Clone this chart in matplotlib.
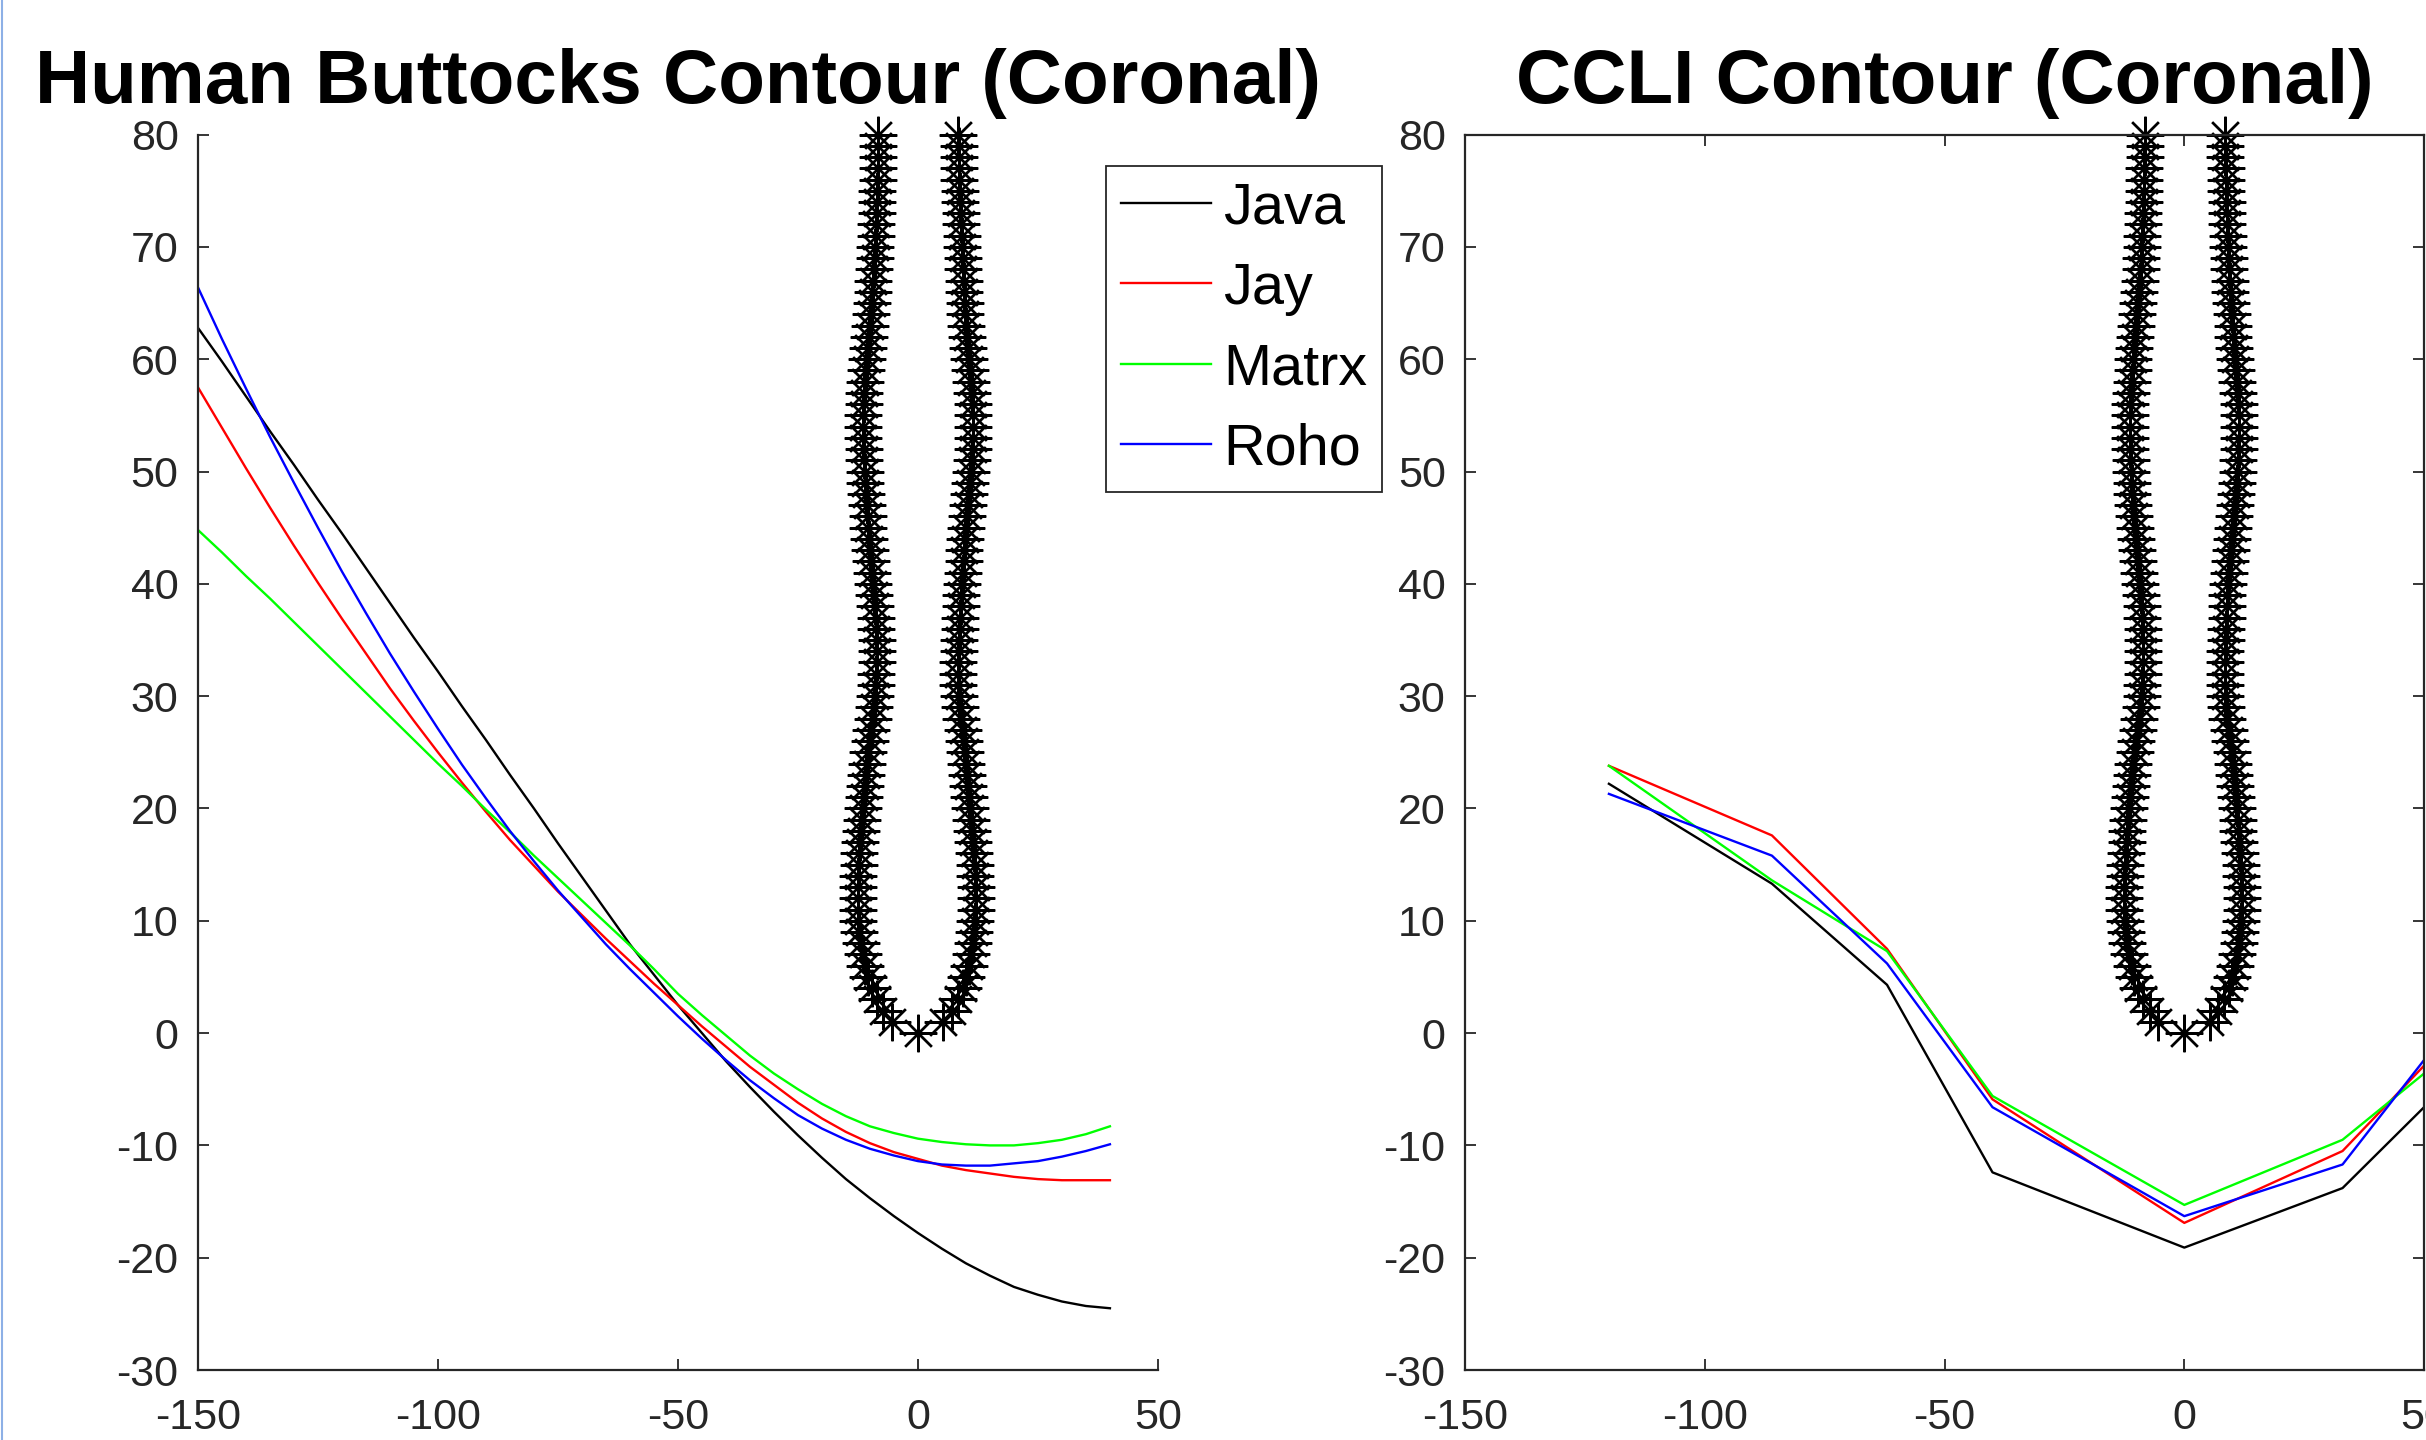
import matplotlib.pyplot as plt
from matplotlib.lines import Line2D

plt.rcParams['font.family'] = ['Liberation Sans', 'DejaVu Sans']
plt.rcParams['axes.unicode_minus'] = False

# fitted contours, human buttocks (left panel), read every 5 mm
x_fit = [-150, -145, -140, -135, -130, -125, -120, -115, -110, -105,
         -100, -95, -90, -85, -80, -75, -70, -65, -60, -55,
         -50, -45, -40, -35, -30, -25, -20, -15, -10, -5,
         0, 5, 10, 15, 20, 25, 30, 35, 40]
java_fit = [62.8, 59.8, 56.7, 53.6, 50.6, 47.5, 44.5, 41.4, 38.3, 35.2,
            32.2, 29.1, 26.1, 23.0, 20.0, 16.9, 13.9, 10.9, 7.9, 5.2,
            2.5, 0.0, -2.5, -4.8, -7.0, -9.1, -11.1, -13.0, -14.7, -16.3,
            -17.8, -19.2, -20.5, -21.6, -22.6, -23.3, -23.9, -24.3, -24.5]
jay_fit = [57.5, 53.9, 50.3, 46.8, 43.4, 40.1, 36.9, 33.8, 30.7, 27.8,
           25.0, 22.3, 19.7, 17.2, 14.9, 12.6, 10.5, 8.4, 6.4, 4.4,
           2.5, 0.6, -1.2, -3.0, -4.6, -6.2, -7.6, -8.8, -9.8, -10.6,
           -11.2, -11.8, -12.2, -12.5, -12.8, -13.0, -13.1, -13.1, -13.1]
matrx_fit = [44.8, 42.8, 40.7, 38.7, 36.6, 34.5, 32.4, 30.3, 28.2, 26.1,
             24.0, 22.0, 19.9, 17.9, 15.8, 13.8, 11.8, 9.8, 7.8, 5.7,
             3.5, 1.6, -0.2, -2.0, -3.6, -5.0, -6.3, -7.4, -8.3, -8.9,
             -9.4, -9.7, -9.9, -10.0, -10.0, -9.8, -9.5, -9.0, -8.3]
roho_fit = [66.4, 61.8, 57.4, 53.1, 49.0, 45.0, 41.1, 37.4, 33.8, 30.4,
            27.1, 23.9, 20.9, 18.0, 15.3, 12.7, 10.3, 7.9, 5.7, 3.6,
            1.5, -0.5, -2.4, -4.2, -5.8, -7.3, -8.5, -9.5, -10.3, -10.9,
            -11.4, -11.7, -11.8, -11.8, -11.6, -11.4, -11.0, -10.5, -9.9]

# CCLI contour (right panel)
x_ccli = [-120, -86, -62, -40, 0, 33, 50]
java_ccli = [22.2, 13.3, 4.3, -12.4, -19.1, -13.8, -6.6]
jay_ccli = [23.8, 17.6, 7.5, -5.9, -16.9, -10.5, -2.9]
matrx_ccli = [23.8, 13.6, 7.3, -5.6, -15.3, -9.5, -3.6]
roho_ccli = [21.3, 15.8, 6.2, -6.6, -16.3, -11.7, -2.4]

# cleft outline (asterisks), one point per mm of height
wall_y = list(range(1, 81))
wall_left = [-5.5, -7.2, -8.6, -9.6, -10.4, -11.0, -11.5, -11.9, -12.2, -12.4,
             -12.5, -12.5, -12.5, -12.4, -12.3, -12.2, -12.0, -11.9, -11.7, -11.5,
             -11.3, -11.1, -10.9, -10.6, -10.3, -10.0, -9.7, -9.4, -9.1, -8.9,
             -8.8, -8.7, -8.6, -8.6, -8.6, -8.7, -8.8, -8.9, -9.1, -9.3,
             -9.5, -9.7, -9.9, -10.1, -10.3, -10.5, -10.7, -10.9, -11.0, -11.1,
             -11.2, -11.3, -11.4, -11.4, -11.4, -11.3, -11.2, -11.0, -10.8, -10.6,
             -10.4, -10.2, -10.0, -9.8, -9.6, -9.4, -9.3, -9.1, -9.0, -8.9,
             -8.8, -8.7, -8.6, -8.5, -8.5, -8.4, -8.4, -8.3, -8.3, -8.3]
wall_right = [5.3, 7.0, 8.3, 9.3, 10.0, 10.6, 11.0, 11.4, 11.7, 11.9,
              12.0, 12.0, 12.0, 11.9, 11.8, 11.7, 11.5, 11.3, 11.1, 10.9,
              10.7, 10.5, 10.3, 10.1, 9.9, 9.6, 9.3, 9.0, 8.7, 8.5,
              8.4, 8.4, 8.4, 8.5, 8.6, 8.7, 8.8, 8.9, 9.0, 9.1,
              9.3, 9.5, 9.7, 9.9, 10.1, 10.3, 10.5, 10.7, 10.9, 11.1,
              11.3, 11.4, 11.5, 11.5, 11.5, 11.4, 11.2, 11.0, 10.8, 10.6,
              10.4, 10.2, 10.1, 9.9, 9.8, 9.6, 9.5, 9.4, 9.3, 9.2,
              9.1, 9.0, 8.9, 8.8, 8.7, 8.6, 8.6, 8.5, 8.5, 8.4]

names = ['Java', 'Jay', 'Matrx', 'Roho']
colors = ['k', 'r', '#00ff00', 'b']
axis_col = '#262626'

fig = plt.figure(figsize=(24.26, 14.4), dpi=100)
ax1 = fig.add_axes([0.0816, 0.0486, 0.3957, 0.8579])
ax2 = fig.add_axes([0.6039, 0.0486, 0.3953, 0.8579])

star = (8, 2, 0)
mk = dict(ls='none', marker=star, ms=27, mew=1.7, color='k', clip_on=False)
for ax in (ax1, ax2):
    ax.plot(wall_left, wall_y, **mk)
    ax.plot(wall_right, wall_y, **mk)
    ax.plot([0], [0], **mk)

for ys, c, n in zip([java_fit, jay_fit, matrx_fit, roho_fit], colors, names):
    ax1.plot(x_fit, ys, color=c, lw=1.7, label=n)
for ys, c in zip([java_ccli, jay_ccli, matrx_ccli, roho_ccli], colors):
    ax2.plot(x_ccli, ys, color=c, lw=1.7)

titles = ['Human Buttocks Contour (Coronal)', 'CCLI Contour (Coronal)']
for ax, t in zip((ax1, ax2), titles):
    ax.set_xlim(-150, 50)
    ax.set_ylim(-30, 80)
    ax.set_xticks(range(-150, 51, 50))
    ax.set_yticks(range(-30, 81, 10))
    ax.tick_params(direction='in', length=8, width=1.3, labelsize=31,
                   colors=axis_col)
    ax.tick_params(axis='y', pad=14)
    ax.tick_params(axis='x', pad=20)
    for s in ax.spines.values():
        s.set_color(axis_col)
        s.set_linewidth(1.6)
    ax.set_title(t, fontsize=55, fontweight='bold', pad=23)

ax1.spines['top'].set_visible(False)
ax1.spines['right'].set_visible(False)
ax2.tick_params(top=True, right=True)

leg = ax1.legend(loc='upper left', bbox_to_anchor=(0.4559, 0.8847),
                 bbox_transform=fig.transFigure, borderaxespad=0,
                 fontsize=41.5, handlelength=1.57, handletextpad=0.2,
                 labelspacing=0.46, borderpad=0.26, fancybox=False,
                 framealpha=1, edgecolor=axis_col)
leg.get_frame().set_linewidth(1.3)

# blue window edge at the far left of the screenshot
fig.add_artist(Line2D([0.0008, 0.0008], [0, 1], transform=fig.transFigure,
                      color='#8db0e6', lw=1.5))

fig.savefig('out.png', dpi=100, facecolor='white')
